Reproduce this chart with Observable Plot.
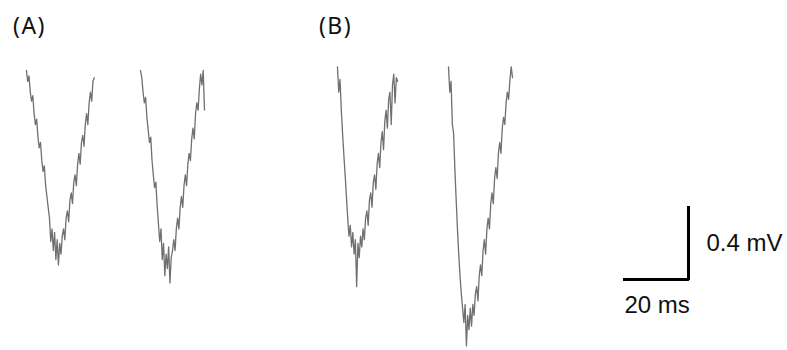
<!DOCTYPE html>
<html><head><meta charset="utf-8">
<script src="https://cdn.jsdelivr.net/npm/d3@7"></script>
<script src="https://cdn.jsdelivr.net/npm/@observablehq/plot@0.6"></script>
<style>html,body{margin:0;padding:0;background:#fff;} .panel-label text{letter-spacing:1.5px;}</style>
</head><body><div id="chart"></div>
<script>
// sample step (ms)
const stepMs = 0.4;
// trace start times (ms)
const traceStarts = {A1: 8.1, A2: 43.75, B1: 105.3, B2: 140};
// voltage samples (mV, relative to baseline)
const traceA1 = [0.00,-0.06,-0.03,-0.12,-0.17,-0.14,-0.24,-0.30,-0.27,-0.37,-0.43,-0.40,-0.50,-0.56,-0.53,-0.64,-0.70,-0.76,-0.82,
  -0.95,-0.88,-1.00,-0.90,-1.05,-0.94,-1.08,-0.96,-1.02,-0.92,
  -0.88,-0.94,-0.82,-0.78,-0.84,-0.72,-0.68,-0.74,-0.62,-0.58,-0.64,-0.52,-0.46,-0.52,-0.40,-0.36,-0.42,-0.30,-0.24,-0.30,-0.18,-0.12,-0.17,-0.06,-0.04];
const traceA2 = [0.00,-0.04,-0.12,-0.18,-0.15,-0.26,-0.33,-0.40,-0.37,-0.50,-0.58,-0.65,-0.62,-0.75,-0.85,
  -0.95,-0.88,-1.05,-0.96,-1.14,-1.02,-1.10,-0.98,-1.18,-1.04,-1.00,
  -0.94,-1.00,-0.88,-0.82,-0.88,-0.76,-0.70,-0.76,-0.64,-0.58,-0.64,-0.52,-0.46,-0.50,-0.38,-0.32,-0.38,-0.24,-0.18,-0.22,-0.10,-0.02,-0.08,
  0.00,-0.22];
const traceB1 = [0.02,-0.12,-0.05,-0.22,-0.35,-0.47,-0.58,-0.70,-0.82,
  -0.92,-0.86,-0.98,-0.90,-1.02,-0.94,-1.20,-0.96,-1.04,-0.92,-0.98,
  -0.88,-0.94,-0.82,-0.78,-0.86,-0.72,-0.68,-0.76,-0.62,-0.58,-0.66,-0.52,-0.46,-0.54,-0.40,-0.34,-0.44,-0.28,-0.22,-0.32,-0.16,-0.12,-0.30,-0.08,-0.02,-0.18,-0.04,-0.06];
const traceB2 = [0.02,-0.12,-0.06,-0.30,-0.35,-0.55,-0.72,-0.88,-1.02,-1.14,-1.24,
  -1.32,-1.40,-1.30,-1.53,-1.36,-1.44,-1.32,-1.42,
  -1.30,-1.36,-1.24,-1.20,-1.28,-1.14,-1.08,-1.14,-1.00,-0.94,-1.02,-0.88,-0.82,-0.88,-0.74,-0.68,-0.74,-0.60,-0.54,-0.60,-0.46,-0.40,-0.46,-0.32,-0.26,-0.30,-0.18,-0.12,-0.16,-0.05,0.02,-0.04];
// panel labels
const panelLabels = ["(A)", "(B)"];
const panelLabelMs = [3.9, 99.5];
const panelLabelMv = 0.205;
// scale bar
const scaleBarMs = 20, scaleBarMv = 0.4;
const scaleBarOriginMs = 195, scaleBarOriginMv = -1.161;
const scaleBarLabels = ["0.4 mV", "20 ms"];

const series = {A1: traceA1, A2: traceA2, B1: traceB1, B2: traceB2};
const rows = [];
for (const [k, vals] of Object.entries(series)) {
  vals.forEach((v, i) => rows.push({trace: k, t: traceStarts[k] + i * stepMs, v}));
}
const bar = [
  {t: scaleBarOriginMs, v: scaleBarOriginMv},
  {t: scaleBarOriginMs + scaleBarMs, v: scaleBarOriginMv},
  {t: scaleBarOriginMs + scaleBarMs, v: scaleBarOriginMv + scaleBarMv}
];
const pl = panelLabels.map((s, i) => ({s, t: panelLabelMs[i], v: panelLabelMv}));
const sbl = [
  {s: scaleBarLabels[0], t: scaleBarOriginMs + scaleBarMs + 5.6, v: scaleBarOriginMv + scaleBarMv * 0.5},
  {s: scaleBarLabels[1], t: scaleBarOriginMs, v: scaleBarOriginMv - 0.145}
];

const W = 787, H = 350;
const chart = Plot.plot({
  width: W, height: H,
  marginTop: 0, marginBottom: 0, marginLeft: 0, marginRight: 0,
  x: {domain: [0, W / 3.2], axis: null},
  y: {domain: [-(H - 70) / 180, 70 / 180], axis: null},
  style: {background: "#fff"},
  marks: [
    Plot.line(rows, {x: "t", y: "v", z: "trace", stroke: "#707070", strokeWidth: 1.3, curve: "linear"}),
    Plot.line(bar, {x: "t", y: "v", stroke: "#000", strokeWidth: 3, strokeLinejoin: "miter", strokeLinecap: "square"}),
    Plot.text(pl, {x: "t", y: "v", text: "s", textAnchor: "start", lineAnchor: "bottom", fontFamily: "Noto Sans", fontSize: 23, fill: "#111", className: "panel-label"}),
    Plot.text(sbl, {x: "t", y: "v", text: "s", textAnchor: "start", lineAnchor: "middle", fontFamily: "Liberation Sans, Arial", fontSize: 24, fill: "#111"})
  ]
});
document.getElementById("chart").appendChild(chart);
</script>
</body></html>
